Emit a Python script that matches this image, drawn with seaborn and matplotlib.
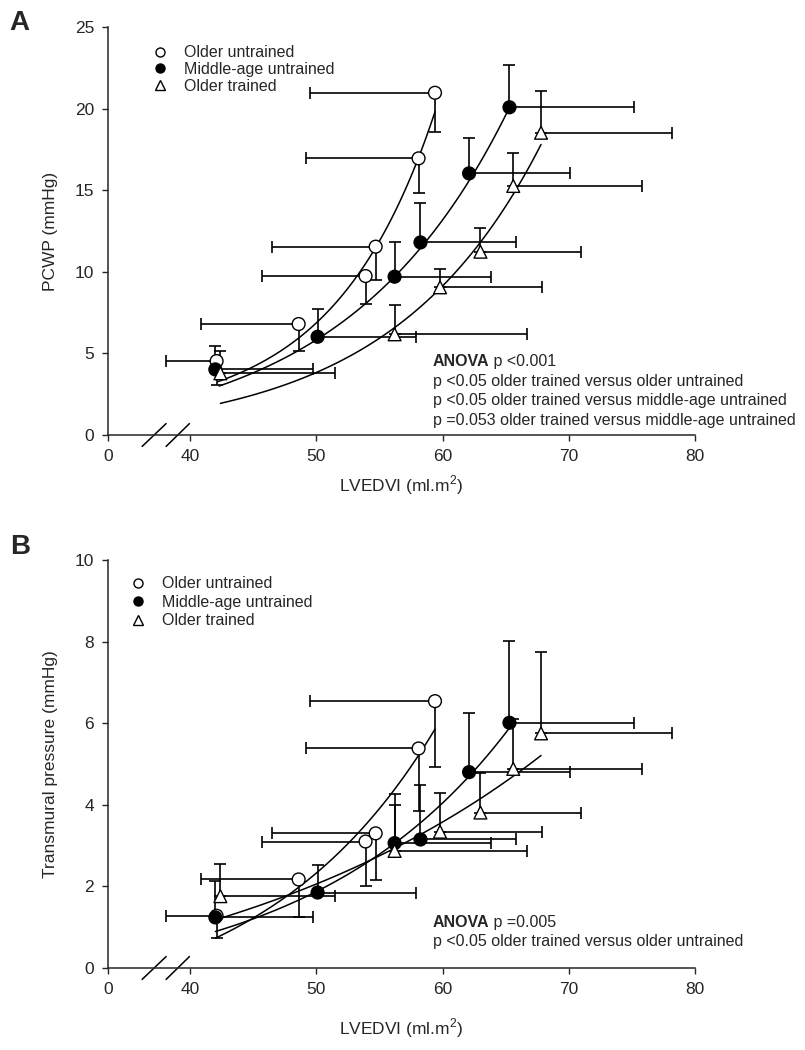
####
#imports
####

import numpy as np
import pandas as pd
import matplotlib
matplotlib.use('Agg')
import matplotlib.pyplot as plt
from matplotlib.lines import Line2D
import seaborn as sns

####
#data
####

groups = ['Older untrained', 'Middle-age untrained', 'Older trained']

# LVEDVI (ml.m2) per group, same in both panels
lvedvi_old = [42.1, 48.6, 53.9, 54.7, 58.1, 59.4]
lvedvi_mid = [42.0, 50.1, 56.2, 58.25, 62.1, 65.3]
lvedvi_trn = [42.4, 56.2, 59.8, 63.0, 65.6, 67.8]
# horizontal error (left for older untrained, right for the others)
lvedvi_err_old = [4.0, 7.7, 8.2, 8.2, 8.9, 9.9]
lvedvi_err_mid = [7.7, 7.8, 7.6, 7.55, 8.0, 9.9]
lvedvi_err_trn = [9.1, 10.5, 8.1, 8.0, 10.2, 10.4]

# panel A: PCWP (mmHg)
pcwp_old = [4.53, 6.8, 9.74, 11.54, 16.95, 20.97]
pcwp_mid = [4.02, 6.02, 9.7, 11.8, 16.03, 20.08]
pcwp_trn = [3.78, 6.17, 9.05, 11.23, 15.26, 18.52]
pcwp_err_old = [1.47, 1.63, 1.74, 2.04, 2.15, 2.42]
pcwp_err_mid = [1.43, 1.72, 2.1, 2.43, 2.17, 2.62]
pcwp_err_trn = [1.39, 1.8, 1.12, 1.44, 2.0, 2.58]

# panel B: transmural pressure (mmHg)
tmp_old = [1.28, 2.17, 3.10, 3.30, 5.38, 6.54]
tmp_mid = [1.24, 1.85, 3.06, 3.15, 4.8, 6.01]
tmp_trn = [1.76, 2.87, 3.34, 3.81, 4.88, 5.75]
tmp_err_old = [0.55, 0.93, 1.09, 1.14, 1.53, 1.61]
tmp_err_mid = [0.9, 0.67, 0.94, 1.34, 1.44, 2.01]
tmp_err_trn = [0.79, 1.39, 0.96, 0.98, 1.22, 2.0]

# exponential fits y = y0 + amp*exp(rate*(x - x0))
fit_a_x0 = [42.2, 42.3, 42.4]
fit_a_x1 = [59.4, 65.3, 67.8]
fit_a_y0 = [1.09, -0.5, -0.16]
fit_a_amp = [2.18, 3.5, 2.1]
fit_a_rate = [0.125, 0.077, 0.0845]

fit_b_x0 = [42.0, 42.0, 42.0]
fit_b_x1 = [59.4, 65.3, 67.8]
fit_b_y0 = [-1.32, -0.60, -1.45]
fit_b_amp = [2.05, 1.494, 2.63]
fit_b_rate = [0.072, 0.063, 0.036]

x_ticks = [40, 50, 60, 70, 80]
x_zero = 33.5  # where "0" sits on the broken axis

####
#defs
####

def make_frame(ys, errs):
    rows = []
    xs = [lvedvi_old, lvedvi_mid, lvedvi_trn]
    xerrs = [lvedvi_err_old, lvedvi_err_mid, lvedvi_err_trn]
    for g, x, xe, y, ye in zip(groups, xs, xerrs, ys, errs):
        for i in range(len(x)):
            rows.append({'group': g, 'x': x[i], 'xerr': xe[i], 'y': y[i], 'yerr': ye[i]})
    return pd.DataFrame(rows)


def fit_frame(x0s, x1s, y0s, amps, rates):
    rows = []
    for g, x0, x1, y0, a, b in zip(groups, x0s, x1s, y0s, amps, rates):
        xx = np.linspace(x0, x1, 80)
        yy = y0 + a * np.exp(b * (xx - x0))
        rows.append(pd.DataFrame({'group': g, 'x': xx, 'y': yy}))
    return pd.concat(rows, ignore_index=True)


def draw_panel(ax, df, fit, ymax, ystep, ylabel, leg_xy, leg_space, xpad, notes, note_y):
    # fitted curves
    for g in groups:
        sub = fit[fit['group'] == g]
        sns.lineplot(x=sub['x'], y=sub['y'], color='black', lw=1.1, ax=ax,
                     estimator=None, sort=False, zorder=2)

    # error bars: older untrained left/down, others right/up
    for g in groups:
        sub = df[df['group'] == g]
        n = len(sub)
        z = np.zeros(n)
        if g == 'Older untrained':
            xerr = [sub['xerr'].values, z]
            yerr = [sub['yerr'].values, z]
        else:
            xerr = [z, sub['xerr'].values]
            yerr = [z, sub['yerr'].values]
        ax.errorbar(sub['x'], sub['y'], xerr=xerr, yerr=yerr, fmt='none',
                    ecolor='black', elinewidth=1.2, capsize=4.5, capthick=1.2, zorder=3)

    sns.scatterplot(data=df, x='x', y='y', hue='group', style='group',
                    palette={'Older untrained': 'white', 'Middle-age untrained': 'black',
                             'Older trained': 'white'},
                    markers={'Older untrained': 'o', 'Middle-age untrained': 'o',
                             'Older trained': '^'},
                    s=85, edgecolor='black', linewidth=1.0, legend=False, ax=ax, zorder=5)

    ax.set_xlim(x_zero, 80)
    ax.set_ylim(0, ymax)
    ax.set_xticks([x_zero] + x_ticks)
    ax.set_xticklabels(['0'] + [str(t) for t in x_ticks])
    ax.set_yticks(np.arange(0, ymax + 0.01, ystep))
    ax.set_yticklabels([str(int(t)) for t in np.arange(0, ymax + 0.01, ystep)])
    ax.set_xlabel('LVEDVI (ml.m$^2$)', fontsize=12.5, labelpad=xpad)
    ax.set_ylabel(ylabel, fontsize=12.5, labelpad=12)
    ax.tick_params(direction='out', length=4, width=1, labelsize=12.5, pad=6)
    sns.despine(ax=ax)
    for sp in ['left', 'bottom']:
        ax.spines[sp].set_linewidth(1.1)

    # axis break marks
    tr = ax.get_xaxis_transform()
    for xs in [(36.2, 38.1), (38.1, 39.95)]:
        ax.plot(xs, (-0.028, 0.028), color='black', lw=1.1, transform=tr, clip_on=False)

    # legend
    handles = [
        Line2D([], [], marker='o', ls='none', mfc='white', mec='black', ms=6.5, mew=1),
        Line2D([], [], marker='o', ls='none', mfc='black', mec='black', ms=6.5, mew=1),
        Line2D([], [], marker='^', ls='none', mfc='white', mec='black', ms=6.5, mew=1),
    ]
    ax.legend(handles, groups, loc='upper left', bbox_to_anchor=leg_xy, frameon=False,
              fontsize=11.5, handlelength=0.8, handletextpad=1.1, labelspacing=leg_space,
              borderaxespad=0, borderpad=0)

    # statistics text
    t = ax.text(0.553, note_y, 'ANOVA', transform=ax.transAxes, fontsize=11.5,
                fontweight='bold', va='center', ha='left')
    ax.annotate(' ' + notes[0], xy=(1, 0.5), xycoords=t, va='center', ha='left',
                fontsize=11.5)
    for i, line in enumerate(notes[1:]):
        ax.text(0.553, note_y - 0.048 * (i + 1), line, transform=ax.transAxes,
                fontsize=11.5, va='center', ha='left')


def main():
    sns.set_style('ticks')
    plt.rcParams['font.family'] = ['Liberation Sans', 'DejaVu Sans']
    plt.rcParams['mathtext.fontset'] = 'custom'
    plt.rcParams['mathtext.rm'] = 'Liberation Sans'

    fig = plt.figure(figsize=(8.05, 10.5), dpi=100)
    ax_a = fig.add_axes([0.1342, 0.5857, 0.7292, 0.3886])
    ax_b = fig.add_axes([0.1342, 0.0781, 0.7292, 0.3886])

    df_a = make_frame([pcwp_old, pcwp_mid, pcwp_trn], [pcwp_err_old, pcwp_err_mid, pcwp_err_trn])
    df_b = make_frame([tmp_old, tmp_mid, tmp_trn], [tmp_err_old, tmp_err_mid, tmp_err_trn])
    fit_a = fit_frame(fit_a_x0, fit_a_x1, fit_a_y0, fit_a_amp, fit_a_rate)
    fit_b = fit_frame(fit_b_x0, fit_b_x1, fit_b_y0, fit_b_amp, fit_b_rate)

    draw_panel(ax_a, df_a, fit_a, 25, 5, 'PCWP (mmHg)', (0.078, 0.955), 0.1, 7,
               ['p <0.001',
                'p <0.05 older trained versus older untrained',
                'p <0.05 older trained versus middle-age untrained',
                'p =0.053 older trained versus middle-age untrained'], 0.18)
    draw_panel(ax_b, df_b, fit_b, 10, 2, 'Transmural pressure (mmHg)', (0.04, 0.96), 0.22, 14,
               ['p =0.005',
                'p <0.05 older trained versus older untrained'], 0.112)

    fig.text(0.012, 0.978, 'A', fontsize=20, fontweight='bold', va='center')
    fig.text(0.012, 0.479, 'B', fontsize=20, fontweight='bold', va='center')

    fig.savefig('out.png', dpi=100)
    plt.close(fig)


if __name__ == '__main__':
    main()
